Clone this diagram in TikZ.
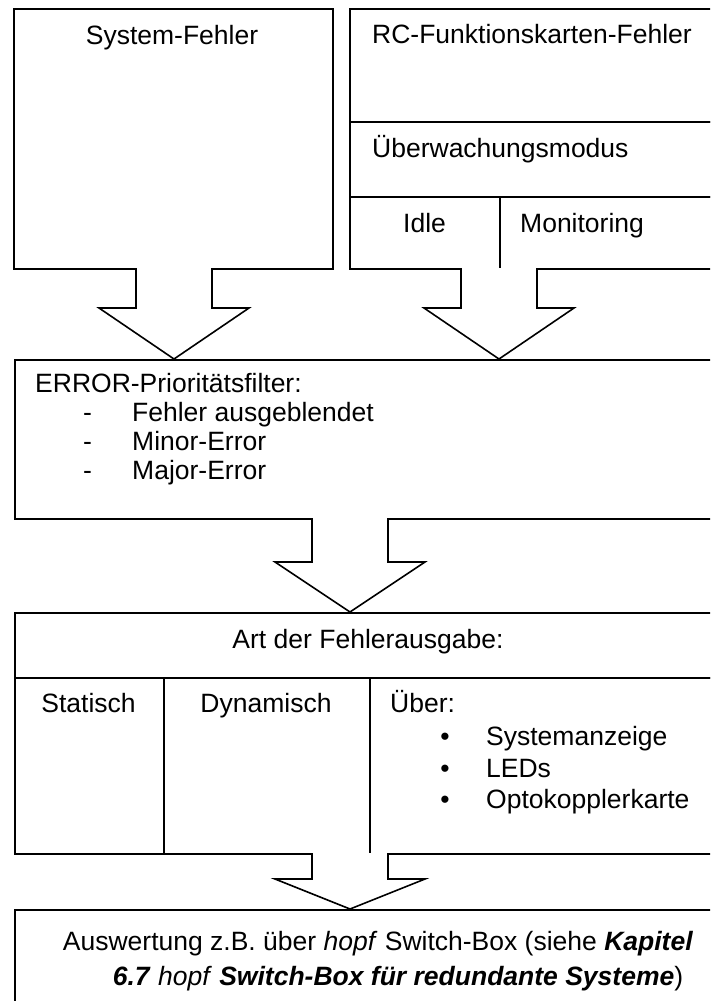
\documentclass[tikz,border=0pt]{standalone}
\usepackage{fontspec}
\setmainfont{Liberation Sans}
\usetikzlibrary{calc}
\begin{document}
\begin{tikzpicture}[x=1pt,y=-1pt,
  box/.style={draw, line width=2pt, inner sep=0pt, anchor=north west},
  txt/.style={inner sep=0pt, font=\fontsize{26.5}{30}\selectfont},
  lt/.style={txt, anchor=base west},
  ct/.style={txt, anchor=base},
  barrow/.style={draw, line width=1.6pt, line join=miter, fill=white},
]
\useasboundingbox (0,0) rectangle (710,1001);
\clip (0,0) rectangle (710,1001);

% top left box
\node[box, minimum width=319pt, minimum height=260pt] (sys) at (13,8) {};
\node[ct] (systxt) at (172,44) {System-Fehler};

% top right box (stacked)
\node[box, minimum width=380pt, minimum height=113pt] (rc) at (349,8) {};
\node[box, minimum width=380pt, minimum height=75pt] (mode) at (349,121) {};
\node[box, minimum width=150pt, minimum height=72pt] (idle) at (349,196) {};
\node[box, minimum width=230pt, minimum height=72pt] (mon) at (499,196) {};
\node[lt] (rctxt) at (372,43) {RC-Funktionskarten-Fehler};
\node[lt] (modetxt) at (372,157) {Überwachungsmodus};
\node[lt] (idletxt) at (403,232) {Idle};
\node[lt] (montxt) at (520,232) {Monitoring};

% error filter box
\node[box, minimum width=715pt, minimum height=159pt] (err) at (14,359) {};
\node[lt] (errtxt) at (35,392) {ERROR-Prioritätsfilter:};
\node[lt] (d1) at (83,421) {-};
\node[lt] (d2) at (83,450) {-};
\node[lt] (d3) at (83,479) {-};
\node[lt] (e1) at (132,421) {Fehler ausgeblendet};
\node[lt] (e2) at (132,450) {Minor-Error};
\node[lt] (e3) at (132,479) {Major-Error};

% output type box
\node[box, minimum width=715pt, minimum height=65pt] (art) at (14,612) {};
\node[box, minimum width=149pt, minimum height=176pt] (stat) at (14,677) {};
\node[box, minimum width=206pt, minimum height=176pt] (dyn) at (163,677) {};
\node[box, minimum width=360pt, minimum height=176pt] (ueb) at (369,677) {};
\node[ct] (arttxt) at (368,648) {Art der Fehlerausgabe:};
\node[ct] (stattxt) at (88.5,712) {Statisch};
\node[ct] (dyntxt) at (266,712) {Dynamisch};
\node[lt] (uebtxt) at (390,712) {Über:};
\node[ct] (b1) at (445,745) {•};
\node[ct] (b2) at (445,777) {•};
\node[ct] (b3) at (445,808) {•};
\node[lt] (u1) at (486,745) {Systemanzeige};
\node[lt] (u2) at (486,777) {LEDs};
\node[lt] (u3) at (486,808) {Optokopplerkarte};

% evaluation box
\node[box, minimum width=715pt, minimum height=120pt] (ausw) at (14,909) {};
\node[ct] (aw1) at (378,950) {Auswertung z.B. über \textit{hopf} Switch-Box (siehe \textbf{\textit{Kapitel}}};
\node[ct] (aw2) at (398,985) {\textbf{\textit{6.7}} \textit{hopf} \textbf{\textit{Switch-Box für redundante Systeme}})};

% block arrows
\coordinate (t1) at (174,359);
\coordinate (t2) at (499,359);
\coordinate (t3) at (350,612);
\coordinate (t4) at (350,909);
\draw[barrow] (t1) ++(-38,-91) -- ++(0,40) -- ++(-37,0) -- (t1) -- ++(75,-51) -- ++(-37,0) -- ++(0,-40);
\draw[barrow] (t2) ++(-38,-91) -- ++(0,40) -- ++(-37,0) -- (t2) -- ++(75,-51) -- ++(-37,0) -- ++(0,-40);
\draw[barrow] (t3) ++(-38,-94) -- ++(0,44) -- ++(-37,0) -- (t3) -- ++(75,-50) -- ++(-37,0) -- ++(0,-44);
\draw[barrow] (t4) ++(-38,-56) -- ++(0,26) -- ++(-37,0) -- (t4) -- ++(75,-30) -- ++(-37,0) -- ++(0,-26);
\end{tikzpicture}
\end{document}
